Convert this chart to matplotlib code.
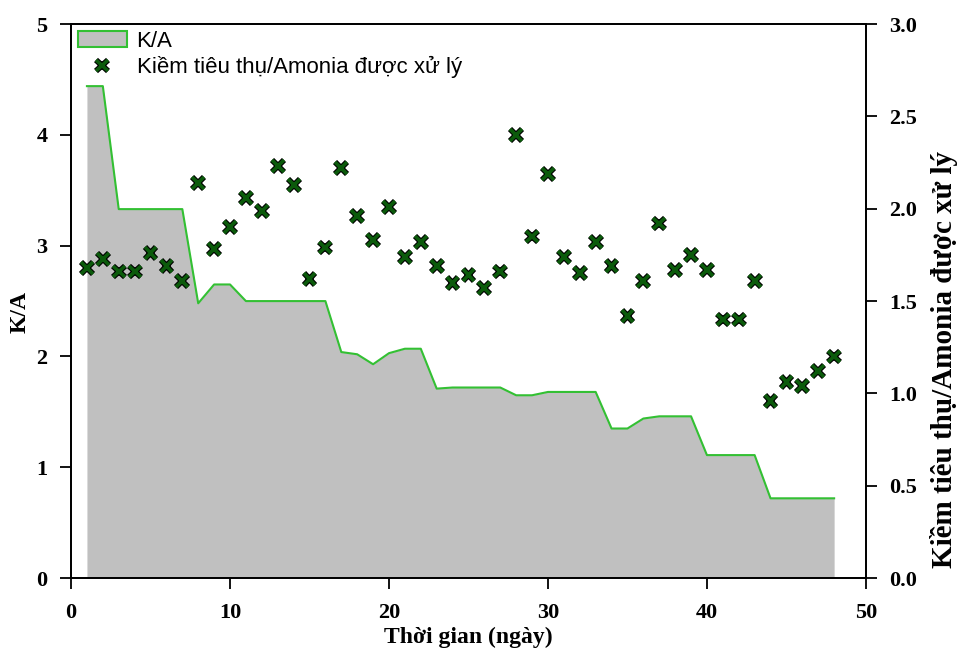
import matplotlib.pyplot as plt
import matplotlib.patheffects as pe
from matplotlib.patches import Patch
from matplotlib.lines import Line2D

# data ------------------------------------------

days = list(range(1, 49))

ka_ratio = [4.44, 4.44, 3.33, 3.33, 3.33, 3.33, 3.33, 2.48, 2.65, 2.65,
            2.50, 2.50, 2.50, 2.50, 2.50, 2.50, 2.04, 2.02, 1.93, 2.03,
            2.07, 2.07, 1.71, 1.72, 1.72, 1.72, 1.72, 1.65, 1.65, 1.68,
            1.68, 1.68, 1.68, 1.35, 1.35, 1.44, 1.46, 1.46, 1.46, 1.11,
            1.11, 1.11, 1.11, 0.72, 0.72, 0.72, 0.72, 0.72]

alk_per_nh4 = [1.68, 1.73, 1.66, 1.66, 1.76, 1.69, 1.61, 2.14, 1.78, 1.90,
               2.06, 1.99, 2.23, 2.13, 1.62, 1.79, 2.22, 1.96, 1.83, 2.01,
               1.74, 1.82, 1.69, 1.60, 1.64, 1.57, 1.66, 2.40, 1.85, 2.19,
               1.74, 1.65, 1.82, 1.69, 1.42, 1.61, 1.92, 1.67, 1.75, 1.67,
               1.40, 1.40, 1.61, 0.96, 1.06, 1.04, 1.12, 1.20]

right_ticks = [0, 0.5, 1.0, 1.5, 2.0, 2.5, 3.0]

# -----------------------------------------------

serif = ['Liberation Serif', 'DejaVu Serif']
sans = ['Liberation Sans', 'DejaVu Sans']
fill_col = '#c0c0c0'
line_col = '#33c033'
mark_col = '#0b5a0b'
outline = [pe.withStroke(linewidth=4.2, foreground='black')]

fig = plt.figure(figsize=(9.6, 6.51), dpi=100)
ax = fig.add_axes([0.074, 0.112, 0.828, 0.851])

ax.fill_between(days, ka_ratio, 0, color=fill_col, lw=0)
ax.plot(days, ka_ratio, color=line_col, lw=1.5)

ax.set_xlim(0, 50)
ax.set_ylim(0, 5)
ax.set_xticks(range(0, 51, 10))
ax.set_yticks(range(0, 6))

ax2 = ax.twinx()
ax2.plot(days, alk_per_nh4, ls='none', marker='x', ms=8.5, mew=2.6,
         color=mark_col, path_effects=outline)
ax2.set_ylim(0, 3)
ax2.set_yticks(right_ticks)
ax2.set_yticklabels([f'{v:.1f}' for v in right_ticks])

for a in (ax, ax2):
    for s in a.spines.values():
        s.set_linewidth(1.3)
    a.tick_params(direction='out', length=8, width=1.3, labelsize=16, pad=9)
    for lab in a.get_xticklabels() + a.get_yticklabels():
        lab.set_family(serif)
        lab.set_fontweight('bold')
ax.tick_params(axis='x', pad=10)

ax.set_xlabel('Thời gian (ngày)', family=serif, fontweight='bold', fontsize=17, labelpad=3)
ax.set_ylabel('K/A', family=serif, fontweight='bold', fontsize=17, va='center')
ax.yaxis.set_label_coords(-0.064, 0.48)
ax2.set_ylabel('Kiềm tiêu thụ/Amonia được xử lý', family=serif, fontweight='bold',
               fontsize=21, va='center')
ax2.yaxis.set_label_coords(1.098, 0.394)

handles = [Patch(facecolor=fill_col, edgecolor=line_col, lw=1.5),
           Line2D([], [], ls='none', marker='x', ms=8.5, mew=2.6, color=mark_col,
                  path_effects=outline)]
ax2.legend(handles, ['K/A', 'Kiềm tiêu thụ/Amonia được xử lý'], loc='upper left',
           frameon=False, prop={'family': sans, 'size': 16}, handlelength=2.2,
           borderaxespad=0.0, borderpad=0.3, handletextpad=0.45, labelspacing=0.2)

fig.savefig('out.png', dpi=100)
